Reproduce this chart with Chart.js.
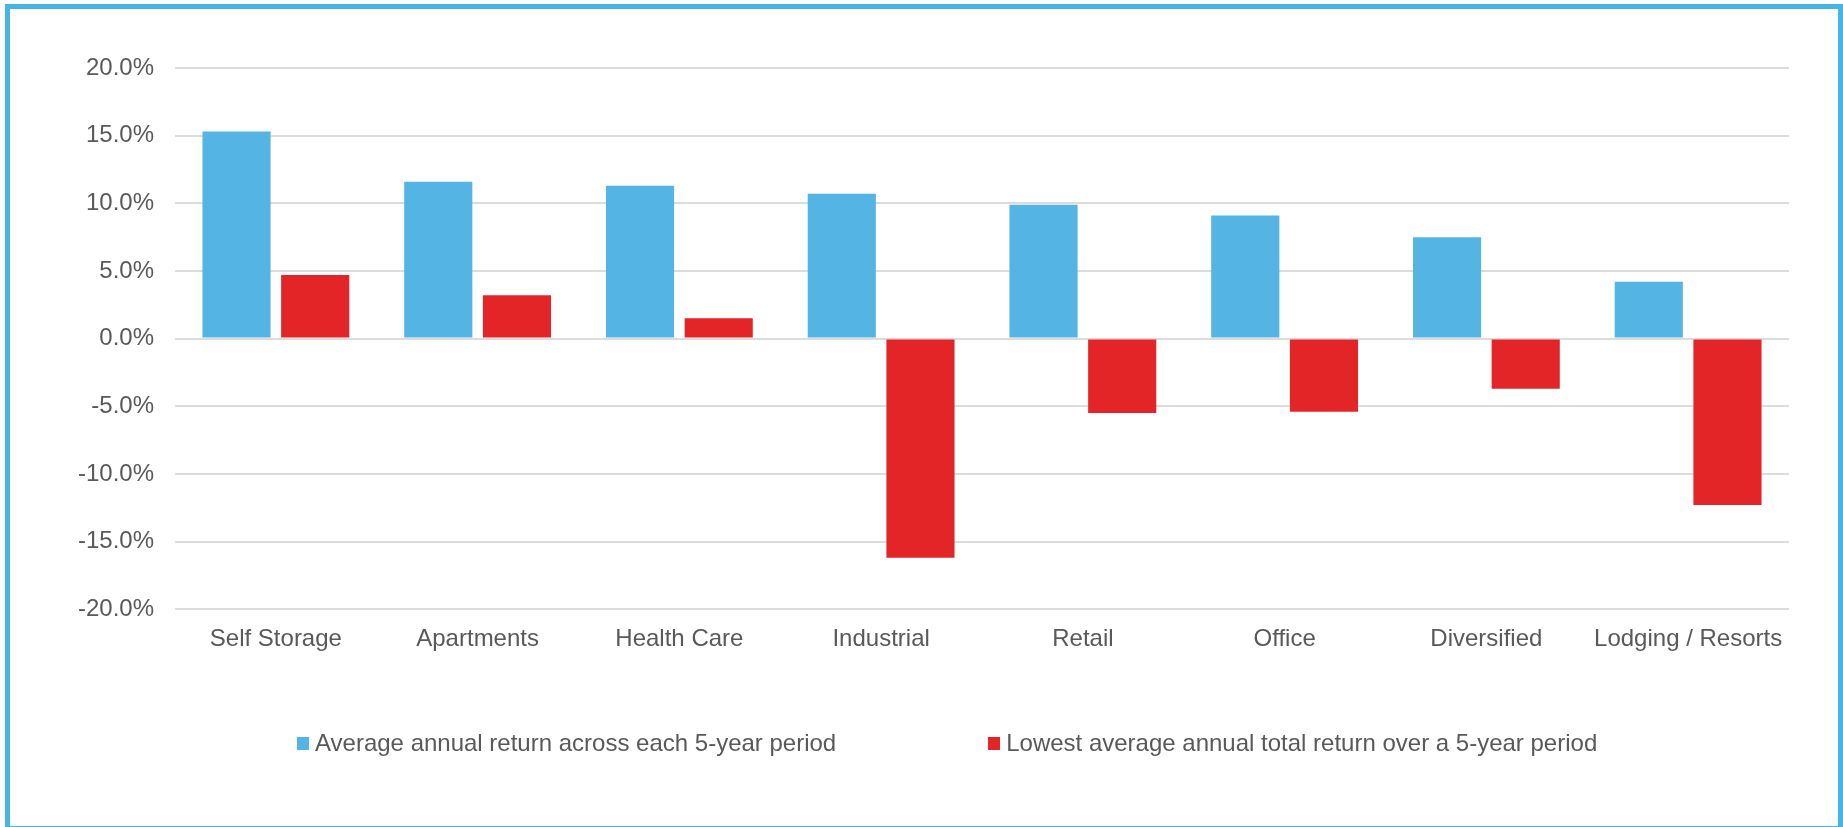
<!DOCTYPE html>
<html lang="en">
<head>
<meta charset="UTF-8">
<title>REIT Sector Returns</title>
<style>
    body {
        margin: 0;
        background: #fff;
        font-family: 'Liberation Sans', Arial, sans-serif;
    }

    .frame {
        position: absolute;
        left: 5px;
        top: 4px;
        width: 1828px;
        height: 817px;
        border: 5px solid #45b5e5;
        background: #fff;
    }

    .chart-box {
        position: relative;
        width: 1828px;
        height: 817px;
    }

    .legend {
        position: absolute;
        left: 287px;
        top: 720px;
        display: flex;
        align-items: center;
        gap: 152px;
        font-size: 24px;
        line-height: 28px;
        color: #595959;
        white-space: nowrap;
    }

    .legend-item {
        display: flex;
        align-items: center;
    }

    .swatch {
        width: 12px;
        height: 13px;
        margin-right: 6px;
    }
</style>
</head>
<body>
<div class="frame">
    <div class="chart-box">
        <canvas id="returnsChart"></canvas>
    </div>
    <div class="legend" id="legend"></div>
</div>
<script src="https://cdn.jsdelivr.net/npm/chart.js"></script>
<script>
    const categories = ['Self Storage', 'Apartments', 'Health Care', 'Industrial', 'Retail', 'Office', 'Diversified', 'Lodging / Resorts'];
    const avgReturn = [15.3, 11.6, 11.3, 10.7, 9.9, 9.1, 7.5, 4.2];
    const lowestReturn = [4.7, 3.2, 1.5, -16.2, -5.5, -5.4, -3.7, -12.3];
    const seriesNames = [
        'Average annual return across each 5-year period',
        'Lowest average annual total return over a 5-year period'
    ];
    const seriesColors = ['#54b4e4', '#e32528'];
    const yTickValues = [-20, -15, -10, -5, 0, 5, 10, 15, 20];

    Chart.defaults.font.family = "'Liberation Sans', Arial, sans-serif";
    Chart.defaults.font.size = 24;
    Chart.defaults.color = '#595959';

    const ctx = document.getElementById('returnsChart').getContext('2d');
    new Chart(ctx, {
        type: 'bar',
        data: {
            labels: categories,
            datasets: [avgReturn, lowestReturn].map((values, i) => ({
                label: seriesNames[i],
                data: values,
                backgroundColor: seriesColors[i],
                borderWidth: 0,
                categoryPercentage: 0.78,
                barPercentage: 0.866
            }))
        },
        options: {
            responsive: true,
            maintainAspectRatio: false,
            animation: false,
            layout: {
                padding: { left: 60, right: 49, top: 59, bottom: 164 }
            },
            plugins: {
                legend: { display: false },
                tooltip: { enabled: false }
            },
            scales: {
                x: {
                    grid: { display: false },
                    border: { display: false },
                    ticks: { padding: 8, maxRotation: 0 }
                },
                y: {
                    min: yTickValues[0],
                    max: yTickValues[yTickValues.length - 1],
                    afterBuildTicks: (scale) => {
                        scale.ticks = yTickValues.map(v => ({ value: v }));
                    },
                    afterFit: (scale) => {
                        scale.width = 105;
                    },
                    grid: {
                        color: '#dcdcdc',
                        lineWidth: 2,
                        drawTicks: false
                    },
                    border: { display: false },
                    ticks: {
                        padding: 21,
                        callback: (value) => value.toFixed(1) + '%'
                    }
                }
            }
        }
    });

    // legend row under the plot
    const legend = document.getElementById('legend');
    seriesNames.forEach((name, i) => {
        const item = document.createElement('div');
        item.className = 'legend-item';
        const swatch = document.createElement('span');
        swatch.className = 'swatch';
        swatch.style.background = seriesColors[i];
        const text = document.createElement('span');
        text.textContent = name;
        item.appendChild(swatch);
        item.appendChild(text);
        legend.appendChild(item);
    });
</script>
</body>
</html>
